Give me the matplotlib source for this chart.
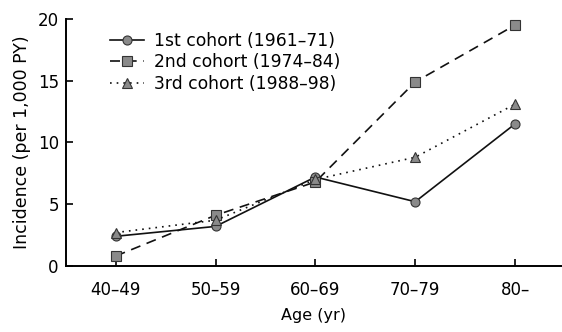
import matplotlib
matplotlib.use("Agg")
import matplotlib.pyplot as plt

plt.rcParams['font.family'] = ['DejaVu Sans']

ages = ["40–49", "50–59", "60–69", "70–79", "80–"]
cohort1 = [2.4, 3.2, 7.2, 5.2, 11.5]
cohort2 = [0.8, 4.1, 6.8, 14.9, 19.5]
cohort3 = [2.7, 3.7, 7.0, 8.8, 13.1]
labels = ["1st cohort (1961–71)", "2nd cohort (1974–84)", "3rd cohort (1988–98)"]
yticks = [0, 5, 10, 15, 20]

fig = plt.figure(figsize=(5.62, 3.32), dpi=100)
ax = fig.add_axes([0.117, 0.199, 0.883, 0.744])
x = list(range(len(ages)))
mk = dict(markerfacecolor='#8a8a8a', markeredgecolor='#333333', markeredgewidth=0.8, color='#111111', lw=1.2)
ax.plot(x, cohort1, '-', marker='o', markersize=6.5, label=labels[0], **mk)
ax.plot(x, cohort2, marker='s', markersize=6.5, linestyle=(0, (6, 4)), label=labels[1], **mk)
ax.plot(x, cohort3, marker='^', markersize=6.5, linestyle=(0, (1, 3)), label=labels[2], **mk)

ax.set_xlim(-0.5, 4.47)
ax.set_ylim(0, 20)
ax.set_xticks(x)
ax.set_xticklabels(ages, fontsize=12)
ax.set_yticks(yticks)
ax.set_yticklabels([str(v) for v in yticks], fontsize=12)
ax.tick_params(direction='in', length=5, width=1.2)
ax.tick_params(axis='x', pad=11)
ax.tick_params(axis='y', pad=5)
ax.spines['top'].set_visible(False)
ax.spines['right'].set_visible(False)
ax.spines['left'].set_linewidth(1.4)
ax.spines['bottom'].set_linewidth(1.4)
ax.set_ylabel("Incidence (per 1,000 PY)", fontsize=12.5, labelpad=5)
ax.set_xlabel("Age (yr)", fontsize=11.5, labelpad=6)
ax.legend(loc='upper left', bbox_to_anchor=(0.075, 0.975), frameon=False, fontsize=12.3,
          handlelength=2.0, handletextpad=0.6, labelspacing=0.2, borderaxespad=0)

fig.savefig("out.png", dpi=100)
